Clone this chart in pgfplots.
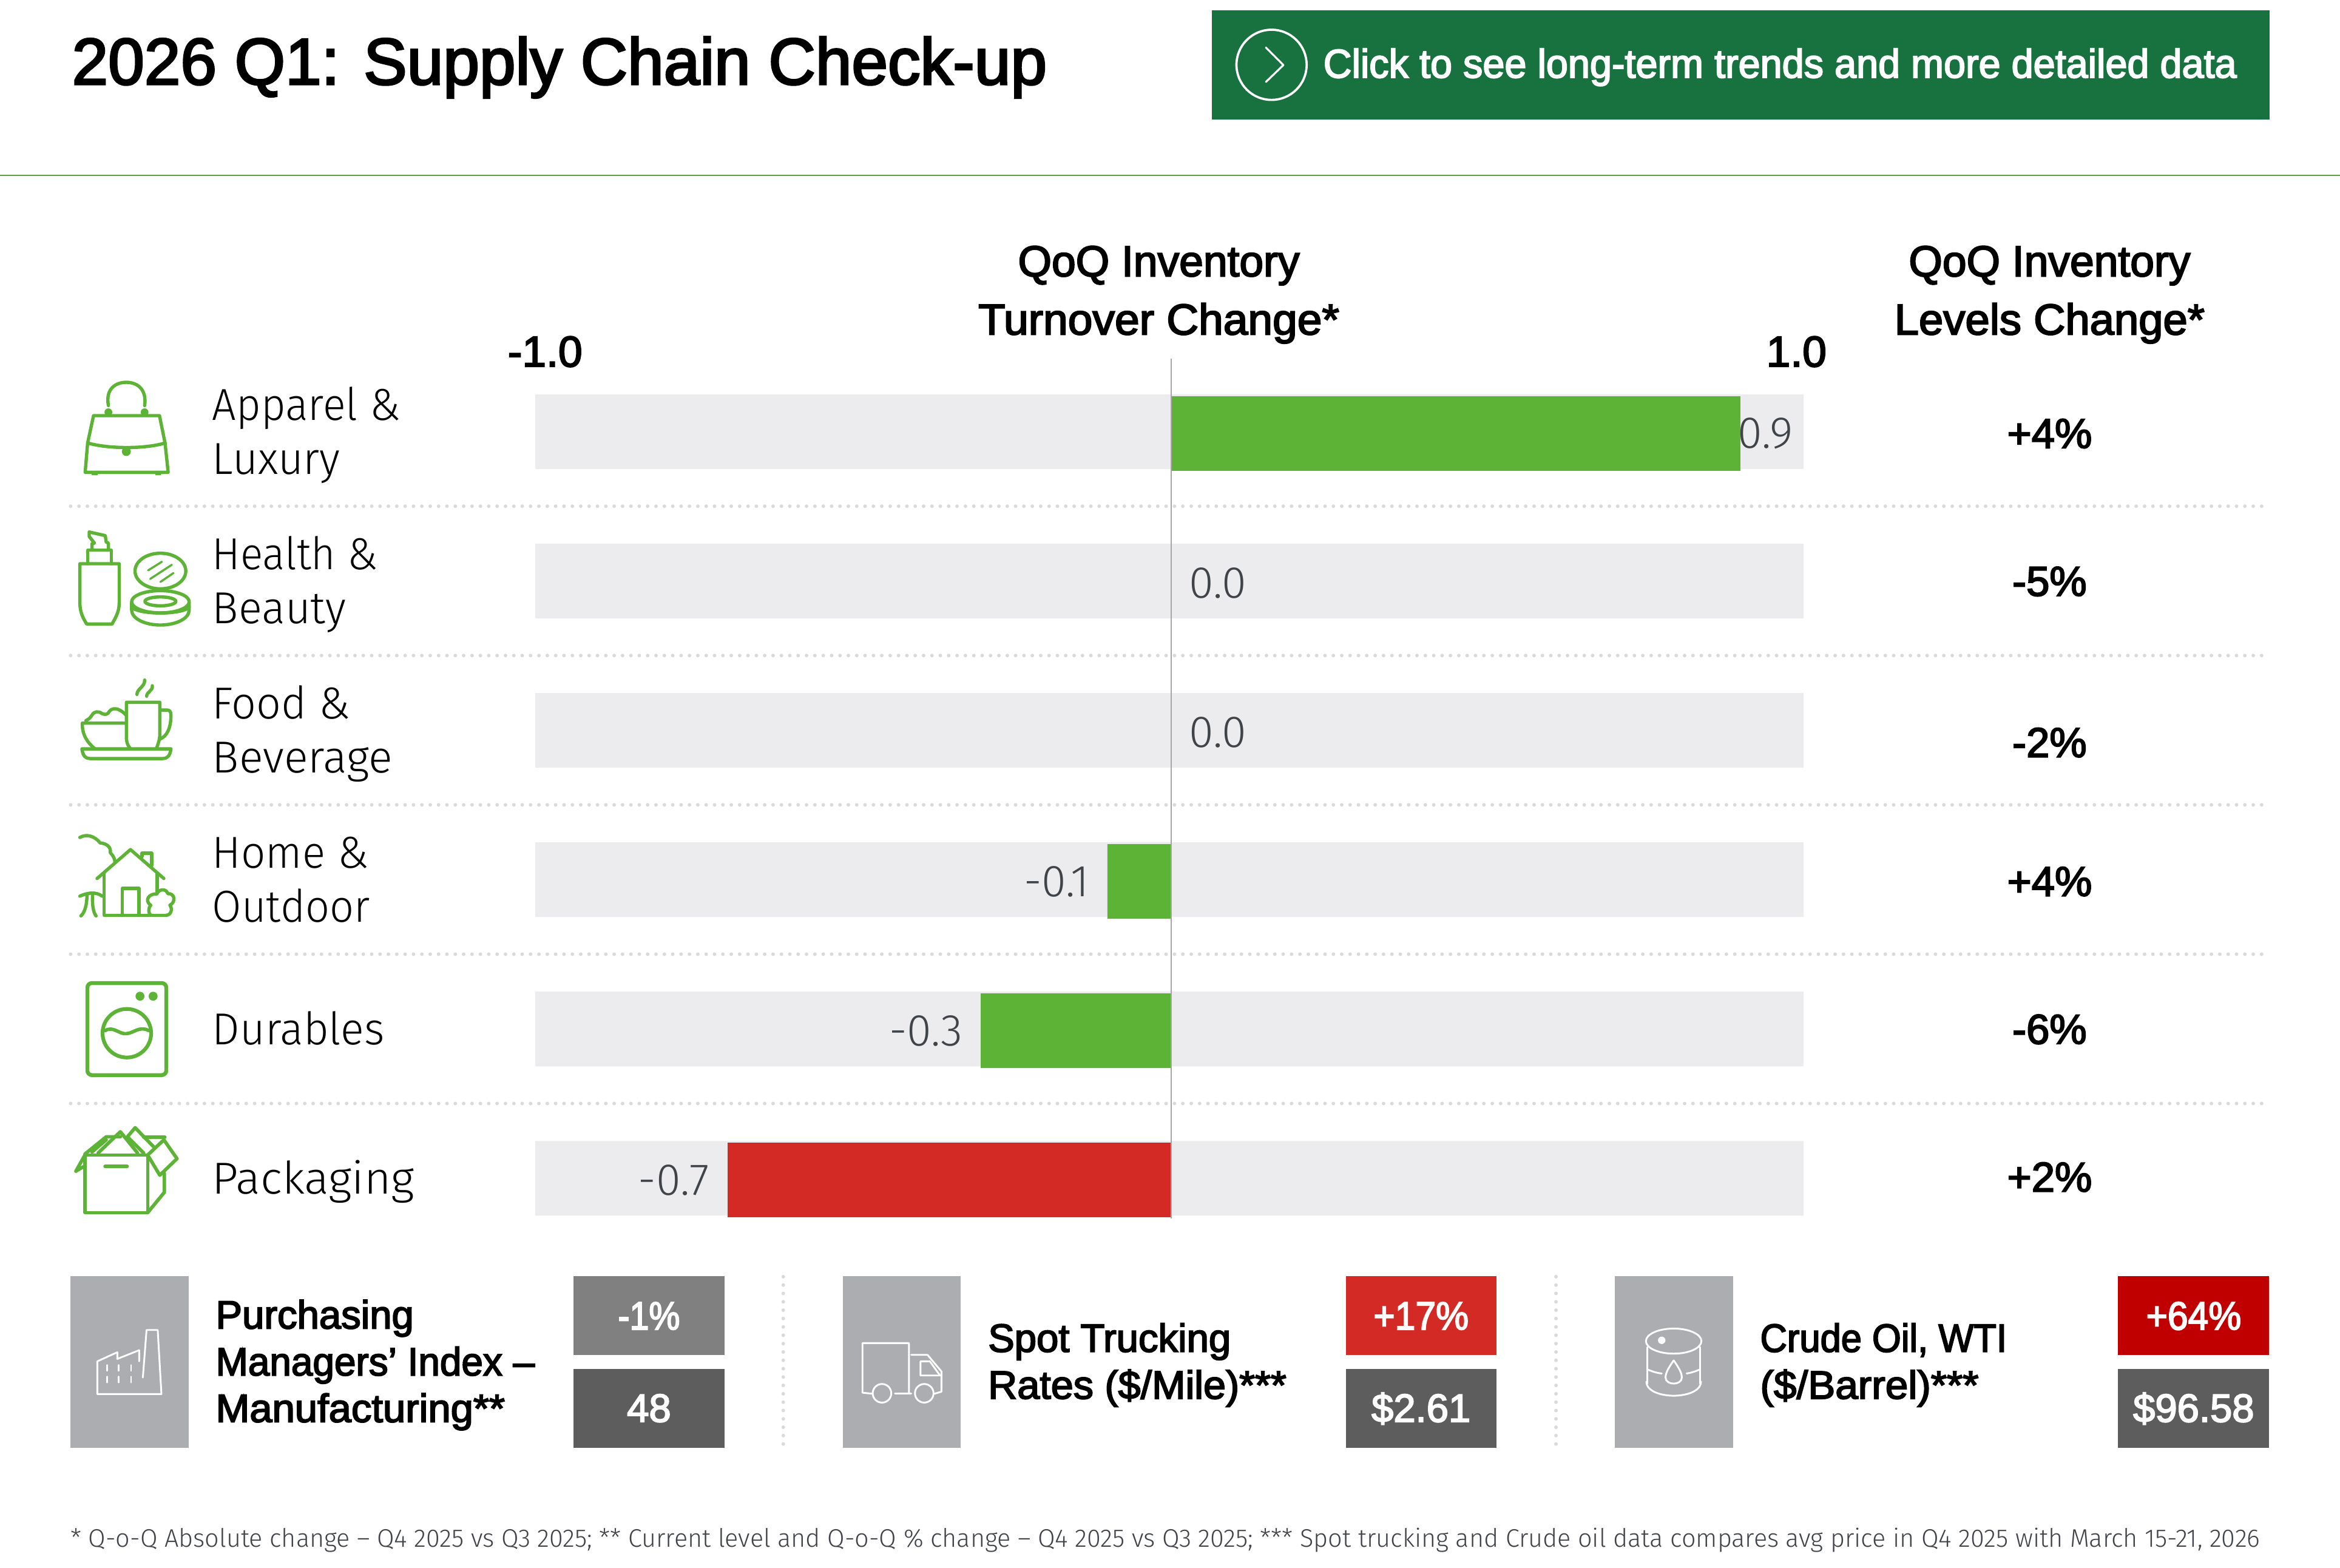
\documentclass[border=0pt]{standalone}
\usepackage{fontspec}
\usepackage{pgfplots}
\pgfplotsset{compat=1.18}
\setmainfont{Liberation Sans}
\newfontfamily\med[FakeBold=3]{Liberation Sans}
\newfontfamily\lite{Fira Sans Light}
\newcommand{\fs}[1]{\fontsize{#1}{#1}\selectfont}
\newcommand{\sx}[2]{\scalebox{#1}[1]{#2}}
\definecolor{icong}{HTML}{5DB335}
\definecolor{barred}{HTML}{D32A25}
\definecolor{track}{HTML}{ECECEE}
\definecolor{btn}{HTML}{18723F}
\definecolor{rule}{HTML}{5EA03C}
\definecolor{panel}{HTML}{ACADB0}
\definecolor{boxmid}{HTML}{808080}
\definecolor{boxdark}{HTML}{5D5D5D}
\definecolor{deepred}{HTML}{C00000}
\definecolor{dots}{HTML}{DADADB}
\definecolor{vallab}{HTML}{404348}
\tikzset{
  t/.style={anchor=base west,inner sep=0pt,text=black},
  c/.style={anchor=base,inner sep=0pt,text=black},
  ic/.style={draw=icong,line width=2.2pt,line join=round,line cap=round,fill=none},
  wh/.style={draw=white,line width=1.2pt,line join=round,line cap=round,fill=none},
  dotline/.style={draw=dots,line width=2.4pt,line cap=round,dash pattern=on 0pt off 5.6pt},
}
\begin{document}
\begin{tikzpicture}[x=1pt,y=-1pt]
\path[use as bounding box,fill=white] (0,0) rectangle (1567,1050.05);

% header
\node[t] at (48,56.5) {\med\fs{44}\sx{.99}{2026 Q1: Supply Chain Check-up}};
\fill[btn] (811.5,6.9) rectangle (1520,79.9);
\draw[white,line width=1.5pt] (851.5,43.4) circle[radius=23.5];
\draw[white,line width=1.3pt,line cap=round,line join=round] (847.7,31.8)--(859.4,43.6)--(847.7,54.9);
\node[t,text=white] at (886,52) {\med\fs{27}\sx{.975}{Click to see long-term trends and more detailed data}};
\draw[rule,line width=1pt] (0,117.5)--(1567,117.5);

% column heads
\node[c] at (776,185) {\med\fs{29}QoQ Inventory};
\node[c] at (776,224) {\med\fs{29}\sx{1.025}{Turnover Change*}};
\node[c] at (1372.5,185) {\med\fs{29}QoQ Inventory};
\node[c] at (1372.5,224) {\med\fs{29}\sx{1.015}{Levels Change*}};
\node[c] at (365,245.5) {\med\fs{29}-1.0};
\node[c] at (1203,245.5) {\med\fs{29}1.0};

% row separators
\foreach \yy in {339,439,539,639,739}
  \draw[dotline] (47.3,\yy)--(1520,\yy);

% bars
\begin{axis}[
  at={(358.5pt,-839.1pt)},anchor=south west,
  scale only axis,width=849.3pt,height=600pt,
  hide axis,clip=false,
  xmin=-1.0035,xmax=0.9995,
  ymin=-0.5,ymax=5.5,y dir=reverse,
  xbar,bar width=50pt,
  point meta=explicit symbolic,
  every node near coord/.append style={font=\lite\fs{30},text=vallab,inner sep=0pt},
]
\addplot[fill=track,draw=none,bar shift=0pt] coordinates
  {(-1.0035,0) (-1.0035,1) (-1.0035,2) (-1.0035,3) (-1.0035,4) (-1.0035,5)};
\addplot[fill=track,draw=none,bar shift=0pt] coordinates
  {(0.9995,0) (0.9995,1) (0.9995,2) (0.9995,3) (0.9995,4) (0.9995,5)};
\addplot[fill=icong,draw=none,bar shift=-1.2pt,nodes near coords,
  every node near coord/.append style={anchor=west,xshift=-2pt}] coordinates {(0.9,0) [0.9]};
\addplot[fill=icong,draw=none,bar shift=-1.2pt,nodes near coords,
  every node near coord/.append style={anchor=west,xshift=12pt}] coordinates {(0.0,1) [0.0] (0.0,2) [0.0]};
\addplot[fill=icong,draw=none,bar shift=-1.2pt,nodes near coords,
  every node near coord/.append style={anchor=east,xshift=-12pt}] coordinates {(-0.1,3) [-0.1] (-0.3,4) [-0.3]};
\addplot[fill=barred,draw=none,bar shift=-1.2pt,nodes near coords,
  every node near coord/.append style={anchor=east,xshift=-12pt}] coordinates {(-0.7,5) [-0.7]};
\end{axis}
\draw[draw=black!35,line width=1pt] (784.3,240)--(784.3,816);

% row labels
\node[t] at (142,281.6) {\lite\fs{30}\sx{.95}{Apparel \&}};
\node[t] at (142,317.7) {\lite\fs{30}\sx{.98}{Luxury}};
\node[t] at (142,381.3) {\lite\fs{30}\sx{.94}{Health \&}};
\node[t] at (142,417.5) {\lite\fs{30}\sx{.98}{Beauty}};
\node[t] at (142,481.3) {\lite\fs{30}\sx{.97}{Food \&}};
\node[t] at (142,517.5) {\lite\fs{30}Beverage};
\node[t] at (142,581.3) {\lite\fs{30}\sx{.96}{Home \&}};
\node[t] at (142,617.5) {\lite\fs{30}\sx{.95}{Outdoor}};
\node[t] at (142,699.5) {\lite\fs{30}\sx{.975}{Durables}};
\node[t] at (142,799.5) {\lite\fs{30}\sx{1.03}{Packaging}};

% right column
\node[c] at (1372.5,300) {\med\fs{28}+4\%};
\node[c] at (1372.5,399) {\med\fs{28}-5\%};
\node[c] at (1372.5,507) {\med\fs{28}-2\%};
\node[c] at (1372.5,600) {\med\fs{28}+4\%};
\node[c] at (1372.5,699) {\med\fs{28}-6\%};
\node[c] at (1372.5,798) {\med\fs{28}+2\%};

% bag and bottle icons
\begin{scope}[shift={(0pt,-235.70pt)},x=.20737pt,y=-.13547pt]
\draw[ic] (350,265) .. controls (340,180) and (375,150) .. (408,150) .. controls (440,150) and (475,180) .. (467,265);
\draw[ic] (302,315)--(515,315)--(533,450)--(543,595)--(275,595)--(283,450)--cycle;
\draw[ic] (283,450) .. controls (350,480) and (470,480) .. (533,450);
\fill[icong] (408,492) circle[radius=3pt] (350,298) circle[radius=2.6pt] (467,298) circle[radius=2.6pt];
\fill[icong] (296,595) rectangle (316,609) (502,595) rectangle (520,609);
\draw[ic] (258,1047)--(385,1047)--(385,1240) .. controls (385,1290) and (370,1320) .. (362,1345)--(280,1345) .. controls (270,1320) and (258,1290) .. (258,1240)--cycle;
\draw[ic] (283,1047)--(283,980)--(360,980)--(360,1047);
\draw[ic] (297,978)--(297,948)--(305,945)--(288,912)--(288,890)--(340,908)--(343,940)--(350,945)--(350,978);
\draw[ic] (518,1083) circle[x radius=82,y radius=88];
\draw[ic,line width=1.4pt] (478,1080)--(523,1037) (485,1122)--(555,1052) (518,1137)--(560,1093);
\draw[ic] (518,1235) circle[x radius=93,y radius=55];
\draw[ic] (518,1233) circle[x radius=50,y radius=22];
\draw[ic] (425,1240)--(425,1275) .. controls (425,1320) and (470,1350) .. (518,1350) .. controls (566,1350) and (611,1320) .. (611,1275)--(611,1240);
\draw[ic] (425,1262) .. controls (450,1300) and (586,1300) .. (611,1262);
\end{scope}

% food and house icons
\begin{scope}[shift={(32.51pt,-426.71pt)},x=.13547pt,y=-.13547pt]
\draw[ic] (437,283) .. controls (437,255) and (477,245) .. (475,212);
\draw[ic] (485,292) .. controls (485,270) and (517,265) .. (513,240);
\draw[ic] (405,552) .. controls (395,540) and (385,525) .. (385,495)--(385,322)--(550,322)--(550,480) .. controls (550,510) and (540,530) .. (533,552);
\draw[ic] (555,360)--(585,360) .. controls (600,360) and (605,370) .. (605,385) .. controls (605,450) and (585,490) .. (552,503);
\draw[ic] (385,425)--(167,425) .. controls (165,480) and (190,520) .. (230,552);
\draw[ic] (185,412) .. controls (200,405) and (205,400) .. (215,385) .. controls (225,365) and (250,365) .. (265,378) .. controls (280,385) and (290,380) .. (295,375) .. controls (310,345) and (345,345) .. (383,385);
\draw[ic] (165,552)--(605,552) .. controls (600,590) and (585,600) .. (565,600)--(205,600) .. controls (185,600) and (170,590) .. (165,552)--cycle;
\draw[ic] (155,990) .. controls (190,970) and (230,985) .. (255,1017) .. controls (290,1020) and (310,1040) .. (305,1065) .. controls (320,1080) and (330,1100) .. (328,1115);
\draw[ic] (240,1193)--(405,1050)--(570,1193);
\draw[ic] (462,1085)--(462,1068)--(510,1068)--(510,1130);
\draw[ic] (275,1170)--(275,1375)--(580,1375);
\draw[ic] (537,1170)--(537,1262);
\draw[ic] (365,1375)--(365,1242)--(447,1242)--(447,1375);
\draw[ic] (580,1375) .. controls (605,1375) and (615,1345) .. (600,1325) .. controls (630,1310) and (625,1265) .. (590,1268) .. controls (580,1240) and (545,1245) .. (535,1270) .. controls (500,1265) and (470,1300) .. (505,1325) .. controls (490,1345) and (495,1365) .. (505,1375);
\draw[ic] (155,1280) .. controls (190,1265) and (230,1255) .. (265,1280);
\draw[ic] (190,1275) .. controls (190,1320) and (180,1360) .. (160,1378);
\draw[ic] (218,1270) .. controls (215,1320) and (220,1360) .. (235,1378);
\end{scope}

% washer and box icons
\begin{scope}[shift={(32.51pt,-629.90pt)},x=.13547pt,y=-.13547pt]
\draw[ic,line width=2.6pt,rounded corners=3pt] (192,210) rectangle (582,665);
\fill[icong] (452,275) circle[radius=3pt] (517,275) circle[radius=3pt];
\draw[ic,line width=2.5pt] (387,458) circle[radius=120];
\draw[ic,line width=2.3pt] (280,445) .. controls (320,420) and (350,465) .. (385,460) .. controls (420,458) and (450,420) .. (495,445);
\draw[ic,line width=2.3pt] (180,1060)--(490,1060)--(490,1345)--(180,1345)--cycle;
\draw[ic,line width=2.5pt] (280,1117)--(388,1117);
\draw[ic,line width=2.3pt] (490,1345)--(572,1245)--(572,1150);
\draw[ic,line width=2.3pt] (490,1060)--(550,1160)--(635,1078)--(570,985)--(490,1060);
\draw[ic,line width=2.3pt] (180,1060)--(135,1140)--(172,1118);
\draw[ic,line width=2.3pt] (180,1055)--(285,970)--(355,970);
\draw[ic,line width=2.3pt] (245,1050)--(355,945)--(440,1050);
\draw[ic,line width=2.3pt] (215,1045)--(285,985);
\draw[ic,line width=2.3pt] (470,1050)--(390,970)--(428,925)--(520,1020);
\draw[ic,line width=2.3pt] (470,972)--(575,972);
\end{scope}

% bottom panels
\fill[panel] (47.1,854.6) rectangle (126.4,969.5);
\fill[boxmid] (384,854.6) rectangle (485.3,907.5);
\fill[boxdark] (384,916.8) rectangle (485.3,969.5);
\fill[panel] (564.5,854.6) rectangle (643.2,969.5);
\fill[barred] (901.3,854.6) rectangle (1002,907.5);
\fill[boxdark] (901.3,916.8) rectangle (1002,969.5);
\fill[panel] (1081.4,854.6) rectangle (1160.5,969.5);
\fill[deepred] (1418.4,854.6) rectangle (1519.5,907.5);
\fill[boxdark] (1418.4,916.8) rectangle (1519.5,969.5);
\draw[dotline] (524.5,855)--(524.5,970);
\draw[dotline] (1042,855)--(1042,970);

\node[t] at (144.3,889.7) {\med\fs{26.5}Purchasing};
\node[t] at (144.3,921.1) {\med\fs{26.5}\sx{.98}{Managers’ Index –}};
\node[t] at (144.3,952.3) {\med\fs{26.5}\sx{1.027}{Manufacturing**}};
\node[t] at (661.5,905.3) {\med\fs{26.5}Spot Trucking};
\node[t] at (661.5,936.7) {\med\fs{26.5}\sx{1.02}{Rates (\$/Mile)***}};
\node[t] at (1178.5,905.3) {\med\fs{26.5}\sx{.943}{Crude Oil, WTI}};
\node[t] at (1178.5,936.7) {\med\fs{26.5}\sx{1.035}{(\$/Barrel)***}};
\node[c,text=white] at (434.6,890.4) {\med\fs{26.5}\sx{.88}{-1\%}};
\node[c,text=white] at (434.6,952.2) {\med\fs{26.5}48};
\node[c,text=white] at (951.6,890.4) {\med\fs{26.5}\sx{.93}{+17\%}};
\node[c,text=white] at (951.6,952.2) {\med\fs{26.5}\$2.61};
\node[c,text=white] at (1469,890.4) {\med\fs{26.5}\sx{.93}{+64\%}};
\node[c,text=white] at (1469,952.2) {\med\fs{26.5}\$96.58};

% factory
\begin{scope}[shift={(36.57pt,-845.29pt)},x=.3110pt,y=-.13547pt]
\draw[wh] (182,490)--(182,435)--(135,478)--(135,445)--(92,490)--(92,652)--(230,652)--(222,335)--(198,335)--(190,570);
\draw[wh,line width=1pt] (113,508)--(113,537) (138,508)--(138,537) (165,508)--(165,537) (113,565)--(113,595) (138,565)--(138,595) (165,565)--(165,595);
\end{scope}
% truck
\begin{scope}[shift={(552.69pt,-845.29pt)},x=.3110pt,y=-.13547pt]
\draw[wh] (100,650)--(80,645)--(80,400)--(180,400)--(180,650);
\draw[wh] (150,650)--(185,650);
\draw[wh] (185,458)--(220,458)--(250,540)--(250,640)--(235,650);
\draw[wh] (205,490)--(225,490)--(247,560)--(205,560)--cycle;
\draw[wh] (122,648) circle[x radius=20,y radius=46];
\draw[wh] (213,648) circle[x radius=20,y radius=46];
\end{scope}
% barrel
\begin{scope}[shift={(1064.74pt,-845.29pt)},x=.3203pt,y=-.13547pt]
\draw[wh] (175,390) circle[x radius=58,y radius=62];
\draw[wh] (120,420)--(120,600) (230,420)--(230,600);
\draw[wh] (118,590) .. controls (118,640) and (150,660) .. (175,660) .. controls (200,660) and (232,640) .. (232,590);
\draw[wh] (120,530) .. controls (130,540) and (140,548) .. (150,550);
\draw[wh] (230,530) .. controls (220,540) and (210,548) .. (202,550);
\draw[wh] (175,485) .. controls (165,520) and (158,545) .. (158,570) .. controls (158,610) and (192,610) .. (192,570) .. controls (192,545) and (185,520) .. (175,485);
\fill[white] (150,386) circle[radius=2.5pt];
\end{scope}

% footnote
\node[t,text=vallab] at (47,1036) {\lite\fs{17}\sx{.989}{* Q-o-Q Absolute change – Q4 2025 vs Q3 2025; ** Current level and Q-o-Q \% change – Q4 2025 vs Q3 2025; *** Spot trucking and Crude oil data compares avg price in Q4 2025 with March 15-21, 2026}};
\end{tikzpicture}
\end{document}
